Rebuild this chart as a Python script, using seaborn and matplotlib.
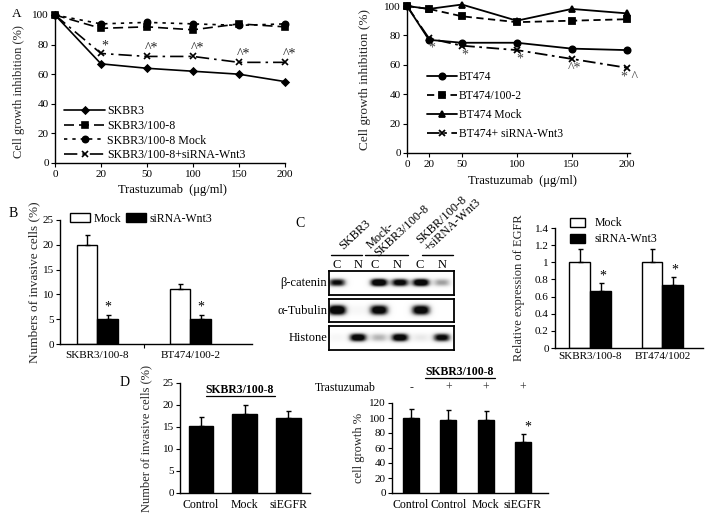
import numpy as np
import pandas as pd
import matplotlib
matplotlib.use("Agg")
import matplotlib.pyplot as plt
import matplotlib.transforms as mtransforms
from matplotlib.lines import Line2D
import seaborn as sns

# ---------------- data ----------------
doses = [0, 20, 50, 100, 150, 200]
skbr3 = [100, 67, 64, 62, 60, 55]
skbr3_1008 = [100, 91, 92, 90, 94, 92]
skbr3_mock = [100, 94, 95, 94, 93, 94]
skbr3_sirna = [100, 74, 72, 72, 68, 68]
skbr3_marks = ["", "*", "^*", "^*", "^*", "^*"]

bt474 = [100, 77, 75, 75, 71, 70]
bt474_1002 = [100, 98, 93, 89, 90, 91]
bt474_mock = [100, 98, 101, 90, 98, 95]
bt474_sirna = [100, 78, 73, 70, 64, 58]
bt474_marks = ["", "*", "*", "*", "^*", "* ^"]

inv_cells = ["SKBR3/100-8", "BT474/100-2"]
inv_mock = [20, 11]
inv_mock_err = [2.0, 1.0]
inv_sirna = [5, 5]
inv_sirna_err = [0.8, 0.8]

egfr_cells = ["SKBR3/100-8", "BT474/1002"]
egfr_mock = [1.0, 1.0]
egfr_mock_err = [0.15, 0.15]
egfr_sirna = [0.67, 0.73]
egfr_sirna_err = [0.09, 0.10]

blot_rows = ["β-catenin", "α-Tubulin", "Histone"]
blot_lanes = ["C", "N", "C", "N", "C", "N"]
blot_groups = ["SKBR3", "Mock-\nSKBR3/100-8", "SKBR/100-8\n+siRNA-Wnt3"]
beta_catenin = [0.75, 0.0, 1.0, 0.85, 0.95, 0.35]
alpha_tubulin = [1.0, 0.05, 0.9, 0.0, 0.9, 0.0]
histone = [0.05, 0.9, 0.3, 0.9, 0.12, 0.8]

d_inv_labels = ["Control", "Mock", "siEGFR"]
d_inv = [15.2, 18.0, 17.0]
d_inv_err = [2.0, 2.0, 1.7]

d_growth_ids = ["Control -", "Control +", "Mock +", "siEGFR +"]
d_growth_labels = ["Control", "Control", "Mock", "siEGFR"]
d_trastuzumab = ["-", "+", "+", "+"]
d_growth = [100, 98, 98, 68]
d_growth_err = [12, 13, 12, 11]

# ---------------- style ----------------
sns.set_theme(style="ticks")
plt.rcParams["font.family"] = ["Liberation Serif", "DejaVu Serif"]
plt.rcParams.update({
    "axes.linewidth": 1.0,
    "xtick.labelsize": 8, "ytick.labelsize": 8,
    "xtick.major.size": 3, "ytick.major.size": 3,
    "xtick.major.width": 0.8, "ytick.major.width": 0.8,
    "xtick.major.pad": 2, "ytick.major.pad": 1.5,
    "axes.labelsize": 9,
    "xtick.color": "black", "ytick.color": "black",
    "axes.edgecolor": "black", "text.color": "black",
})

W, H = 706, 515
fig = plt.figure(figsize=(W / 100, H / 100), dpi=100)


def axpx(x0, y0, x1, y1):
    return fig.add_axes([x0 / W, 1 - y1 / H, (x1 - x0) / W, (y1 - y0) / H])


def ftext(x, y, s, **kw):
    fig.text(x / W, 1 - y / H, s, **kw)


def clean(ax):
    sns.despine(ax=ax)


# ---------------- Panel A left ----------------
axA1 = axpx(55, 15, 285, 163)
xcat = [str(d) for d in doses]
seriesA1 = [
    ("SKBR3", skbr3, "-", "D", 3.5),
    ("SKBR3/100-8", skbr3_1008, (0, (6, 3)), "s", 4.5),
    ("SKBR3/100-8 Mock", skbr3_mock, (0, (2, 3)), "o", 4.5),
    ("SKBR3/100-8+siRNA-Wnt3", skbr3_sirna, (0, (8, 3, 1.5, 3)), "x", 5),
]
for lab, vals, ls, mk, ms in seriesA1:
    sns.lineplot(x=xcat, y=vals, ax=axA1, color="black", linestyle=ls, marker=mk,
                 markersize=ms, markeredgecolor="black", markeredgewidth=1.2,
                 linewidth=1.2, label=lab, sort=False, clip_on=False)
axA1.set_xlim(0, 5)
axA1.set_ylim(0, 100)
axA1.set_yticks([0, 20, 40, 60, 80, 100])
axA1.set_xlabel("")
axA1.set_ylabel("Cell growth inhibition (%)", fontsize=9)
axA1.yaxis.set_label_coords(-0.13, 0.48)
for i, (m, v) in enumerate(zip(skbr3_marks, skbr3_sirna)):
    if m:
        axA1.annotate(m, (i, v), xytext=(3, 1), textcoords="offset points",
                      ha="center", va="bottom", fontsize=10, color="#222222")
axA1.legend(loc="upper left", bbox_to_anchor=(0.04, 0.39), frameon=False,
            fontsize=8.6, handlelength=3.4, handletextpad=0.2, labelspacing=0.22,
            borderpad=0, borderaxespad=0)
clean(axA1)
ftext(172, 190, "Trastuzumab  (μg/ml)", ha="center", va="center", fontsize=9)
ftext(17, 14, "A", ha="center", va="center", fontsize=9.5)

# ---------------- Panel A right ----------------
axA2 = axpx(407, 6, 630, 153)
seriesA2 = [
    ("BT474", bt474, "-", "o", 4.5),
    ("BT474/100-2", bt474_1002, (0, (4, 2.5)), "s", 4.5),
    ("BT474 Mock", bt474_mock, "-", "^", 5),
    ("BT474+ siRNA-Wnt3", bt474_sirna, (0, (7, 2.5, 1.5, 2.5)), "x", 5),
]
for lab, vals, ls, mk, ms in seriesA2:
    sns.lineplot(x=doses, y=vals, ax=axA2, color="black", linestyle=ls, marker=mk,
                 markersize=ms, markeredgecolor="black", markeredgewidth=1.3,
                 linewidth=1.3, label=lab, sort=False, clip_on=False)
axA2.set_xlim(0, 203)
axA2.set_ylim(0, 100)
axA2.set_xticks(doses)
axA2.set_yticks([0, 20, 40, 60, 80, 100])
axA2.set_xlabel("")
axA2.set_ylabel("Cell growth inhibition (%)", fontsize=9.5)
axA2.yaxis.set_label_coords(-0.16, 0.5)
for x, m, v in zip(doses, bt474_marks, bt474_sirna):
    if m:
        axA2.annotate(m, (x, v), xytext=(2, -2), textcoords="offset points",
                      ha="center", va="top", fontsize=10, color="#444444")
axA2.legend(loc="upper left", bbox_to_anchor=(0.09, 0.56), frameon=False,
            fontsize=8.4, handlelength=2.6, handletextpad=0.1, labelspacing=0.62,
            borderpad=0, borderaxespad=0)
clean(axA2)
ftext(522, 181, "Trastuzumab  (μg/ml)", ha="center", va="center", fontsize=9)

# ---------------- Panel B ----------------
axB = axpx(60, 220, 252, 344)
dfB = pd.DataFrame({
    "cell": inv_cells * 2,
    "cond": ["Mock"] * 2 + ["siRNA-Wnt3"] * 2,
    "val": inv_mock + inv_sirna,
})
sns.barplot(data=dfB, x="cell", y="val", hue="cond", ax=axB,
            palette={"Mock": "white", "siRNA-Wnt3": "black"}, edgecolor="black",
            linewidth=1.0, width=0.44, gap=0, errorbar=None, saturation=1)
for cont, errs in zip(axB.containers, [inv_mock_err, inv_sirna_err]):
    for bar, e in zip(cont, errs):
        xc = bar.get_x() + bar.get_width() / 2
        h = bar.get_height()
        axB.errorbar(xc, h, yerr=[[0], [e]], fmt="none", ecolor="black",
                     elinewidth=1, capsize=1.8, capthick=1)
for bar, e in zip(axB.containers[1], inv_sirna_err):
    axB.text(bar.get_x() + bar.get_width() / 2, bar.get_height() + e + 0.4, "*",
             ha="center", va="bottom", fontsize=10)
axB.set_xlim(-0.40, 1.66)
axB.set_ylim(0, 25)
axB.set_yticks([0, 5, 10, 15, 20, 25])
axB.set_xlabel("")
axB.set_ylabel("Numbers of invasive cells (%)", fontsize=9.5)
axB.yaxis.set_label_coords(-0.105, 0.5)
axB.tick_params(axis="x", length=0, labelsize=8, pad=5)
axB.set_xticks([0.5], minor=True)
axB.tick_params(axis="x", which="minor", length=3, width=0.8)
axB.legend(loc="upper left", bbox_to_anchor=(0.05, 1.06), ncol=2, frameon=False,
           fontsize=8.5, handlelength=1.7, handleheight=0.7, handletextpad=0.3,
           columnspacing=0.45, borderpad=0, borderaxespad=0)
clean(axB)
ftext(13, 213, "B", ha="center", va="center", fontsize=10)

# ---------------- Panel C western blot ----------------
ftext(300, 223, "C", ha="center", va="center", fontsize=10)
row_boxes = [(271, 295), (299, 322), (326, 350)]
row_data = [beta_catenin, alpha_tubulin, histone]
row_sy = [0.17, 0.23, 0.18]
row_sx = [0.42, 0.45, 0.42]
bx0, bx1 = 329, 454
xlo, xhi = -0.38, 5.57
for (y0, y1), name, inten, sy, sx in zip(row_boxes, blot_rows, row_data, row_sy, row_sx):
    axb = axpx(bx0, y0, bx1, y1)
    xs = np.linspace(xlo, xhi, 400)
    ys = np.linspace(0, 1, 80)
    X, Y = np.meshgrid(xs, ys)
    img = np.zeros_like(X)
    for i, a in enumerate(inten):
        img += a * np.exp(-np.abs((X - i) / sx) ** 3 - np.abs((Y - 0.52) / sy) ** 2.5)
    img = np.clip(img * 1.35, 0, 0.97)
    axb.imshow(img, cmap="Greys", vmin=0, vmax=1, extent=(xlo, xhi, 0, 1),
               aspect="auto", origin="lower", interpolation="bilinear")
    axb.set_xlim(xlo, xhi)
    axb.set_ylim(0, 1)
    axb.set_xticks([])
    axb.set_yticks([])
    for s in axb.spines.values():
        s.set_linewidth(1.3)
        s.set_visible(True)
    ftext(327, (y0 + y1) / 2, name, ha="right", va="center", fontsize=9)

lane_px = [337, 358, 375, 397, 420, 442]
for xp, lab in zip(lane_px, blot_lanes):
    ftext(xp, 265, lab, ha="center", va="center", fontsize=9)
group_lines = [(331, 362), (365, 408), (422, 453)]
for (gx0, gx1) in group_lines:
    fig.add_artist(Line2D([gx0 / W, gx1 / W], [1 - 255 / H, 1 - 255 / H],
                          color="black", lw=1.0))
group_anchor = [(345, 252), (380, 259), (430, 254)]
for (ax_, ay_), g in zip(group_anchor, blot_groups):
    fig.text(ax_ / W, 1 - ay_ / H, g, rotation=43, rotation_mode="anchor",
             ha="left", va="bottom", fontsize=8.8, linespacing=0.9,
             multialignment="left")

# ---------------- Panel C right EGFR ----------------
axC = axpx(555, 228, 703, 348)
dfC = pd.DataFrame({
    "cell": egfr_cells * 2,
    "cond": ["Mock"] * 2 + ["siRNA-Wnt3"] * 2,
    "val": egfr_mock + egfr_sirna,
})
sns.barplot(data=dfC, x="cell", y="val", hue="cond", ax=axC,
            palette={"Mock": "white", "siRNA-Wnt3": "black"}, edgecolor="black",
            linewidth=1.0, width=0.58, gap=0, errorbar=None, saturation=1)
for cont, errs in zip(axC.containers, [egfr_mock_err, egfr_sirna_err]):
    for bar, e in zip(cont, errs):
        xc = bar.get_x() + bar.get_width() / 2
        axC.errorbar(xc, bar.get_height(), yerr=[[0], [e]], fmt="none",
                     ecolor="black", elinewidth=1, capsize=1.8, capthick=1)
for bar, e in zip(axC.containers[1], egfr_sirna_err):
    axC.text(bar.get_x() + bar.get_width() / 2 + 0.03, bar.get_height() + e + 0.0,
             "*", ha="center", va="bottom", fontsize=10)
axC.set_xlim(-0.486, 1.56)
axC.set_ylim(0, 1.4)
axC.set_yticks([0, 0.2, 0.4, 0.6, 0.8, 1.0, 1.2, 1.4])
axC.set_yticklabels(["0", "0.2", "0.4", "0.6", "0.8", "1", "1.2", "1.4"])
axC.set_xlabel("")
axC.set_ylabel("Relative expression of EGFR", fontsize=9)
axC.yaxis.set_label_coords(-0.2, 0.5)
axC.tick_params(axis="x", length=0, labelsize=8, pad=3)
axC.legend(loc="upper left", bbox_to_anchor=(0.1, 1.09), ncol=1, frameon=False,
           fontsize=8.5, handlelength=1.3, handleheight=0.8, handletextpad=0.8,
           labelspacing=0.35, borderpad=0, borderaxespad=0)
clean(axC)

# ---------------- Panel D left ----------------
axD1 = axpx(180, 383, 310, 493)
sns.barplot(x=d_inv_labels, y=d_inv, ax=axD1, color="black", width=0.57,
            errorbar=None, saturation=1, edgecolor="black")
for bar, e in zip(axD1.containers[0], d_inv_err):
    axD1.errorbar(bar.get_x() + bar.get_width() / 2, bar.get_height(),
                  yerr=[[0], [e]], fmt="none", ecolor="black", elinewidth=1,
                  capsize=1.8, capthick=1)
axD1.set_xlim(-0.48, 2.5)
axD1.set_ylim(0, 25)
axD1.set_yticks([0, 5, 10, 15, 20, 25])
axD1.set_ylabel("Number of invasive cells (%)", fontsize=9)
axD1.yaxis.set_label_coords(-0.21, 0.5)
axD1.tick_params(axis="x", length=0, labelsize=8.5, pad=4)
clean(axD1)
ftext(240, 390, "SKBR3/100-8", ha="center", va="center", fontsize=8.5,
      fontweight="bold")
fig.add_artist(Line2D([206 / W, 275 / W], [1 - 396 / H, 1 - 396 / H],
                      color="black", lw=0.9))
ftext(125, 383, "D", ha="center", va="center", fontsize=10)

# ---------------- Panel D right ----------------
axD2 = axpx(392, 403, 548, 493)
sns.barplot(x=d_growth_ids, y=d_growth, ax=axD2, color="black", width=0.43,
            errorbar=None, saturation=1, edgecolor="black")
for bar, e in zip(axD2.containers[0], d_growth_err):
    axD2.errorbar(bar.get_x() + bar.get_width() / 2, bar.get_height(),
                  yerr=[[0], [e]], fmt="none", ecolor="black", elinewidth=1,
                  capsize=1.8, capthick=1)
last = axD2.containers[0][-1]
axD2.text(last.get_x() + last.get_width() / 2 + 0.12,
          d_growth[-1] + d_growth_err[-1] + 0, "*", ha="center", va="bottom",
          fontsize=10)
axD2.set_xlim(-0.51, 3.67)
axD2.set_ylim(0, 120)
axD2.set_yticks([0, 20, 40, 60, 80, 100, 120])
axD2.set_xticks(range(len(d_growth_labels)))
axD2.set_xticklabels(d_growth_labels)
axD2.set_ylabel("cell growth %", fontsize=9)
axD2.yaxis.set_label_coords(-0.17, 0.5)
axD2.tick_params(axis="x", length=0, labelsize=8.5, pad=4)
trans = mtransforms.blended_transform_factory(axD2.transData, axD2.transAxes)
for i, s in enumerate(d_trastuzumab):
    axD2.text(i, 1.167, s, transform=trans, ha="center", va="center",
              fontsize=8.5, color="#333333")
clean(axD2)
ftext(376, 388, "Trastuzumab", ha="right", va="center", fontsize=8.5)
ftext(460, 372, "SKBR3/100-8", ha="center", va="center", fontsize=8.5,
      fontweight="bold")
fig.add_artist(Line2D([425 / W, 495 / W], [1 - 378 / H, 1 - 378 / H],
                      color="black", lw=0.9))

fig.savefig("out.png", dpi=100)
